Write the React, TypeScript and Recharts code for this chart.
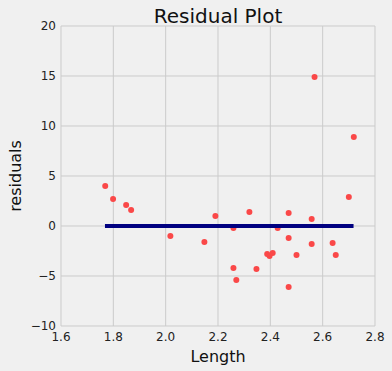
import React from 'react';
import { ScatterChart, Scatter, XAxis, YAxis, CartesianGrid } from 'recharts';

const lengths = [1.769, 1.799, 1.849, 1.868, 2.018, 2.148, 2.19, 2.259, 2.259, 2.27, 2.32, 2.347, 2.388, 2.397, 2.409, 2.428, 2.47, 2.47, 2.47, 2.5, 2.558, 2.558, 2.569, 2.638, 2.65, 2.70, 2.719];
const residuals = [4.0, 2.7, 2.1, 1.6, -1.0, -1.6, 1.0, -0.2, -4.2, -5.4, 1.4, -4.3, -2.8, -3.0, -2.7, -0.2, 1.3, -1.2, -6.1, -2.9, 0.7, -1.8, 14.9, -1.7, -2.9, 2.9, 8.9];
const fitX = [1.768, 2.718];
const fitY = [0, 0];
const xTicks = [1.6, 1.8, 2.0, 2.2, 2.4, 2.6, 2.8];
const yTicks = [-10, -5, 0, 5, 10, 15, 20];

const points = lengths.map((x, i) => ({ x, y: residuals[i] }));
const fitLine = fitX.map((x, i) => ({ x, y: fitY[i] }));

const font = '"DejaVu Sans", sans-serif';

export default function App() {
  return (
    <div style={{ position: 'absolute', left: 0, top: 0, width: 392, height: 371, background: '#f0f0f0', fontFamily: font }}>
      <ScatterChart width={392} height={371} margin={{ top: 26, right: 17, bottom: 0, left: 0 }}>
        <CartesianGrid stroke="#cbcbcb" strokeWidth={1} />
        <XAxis
          type="number"
          dataKey="x"
          domain={[1.6, 2.8]}
          ticks={xTicks}
          tickFormatter={(v: number) => v.toFixed(1)}
          height={45}
          axisLine={false}
          tickLine={false}
          tickSize={0}
          tickMargin={6}
          tick={{ fill: '#222', fontSize: 12, fontFamily: font }}
          allowDataOverflow
        />
        <YAxis
          type="number"
          dataKey="y"
          domain={[-10, 20]}
          ticks={yTicks}
          tickFormatter={(v: number) => (v < 0 ? '\u2212' + Math.abs(v) : String(v))}
          width={61}
          axisLine={false}
          tickLine={false}
          tickSize={0}
          tickMargin={5}
          tick={{ fill: '#222', fontSize: 12, fontFamily: font }}
          allowDataOverflow
        />
        <Scatter data={points} fill="#fa4848" isAnimationActive={false} shape={(p: any) => <circle cx={p.cx} cy={p.cy} r={3} fill="#fa4848" />} />
        <Scatter data={fitLine} isAnimationActive={false} line={{ stroke: '#000080', strokeWidth: 4 }} shape={() => <g />} />
        <text x={218} y={22.7} textAnchor="middle" fontSize={20} fontFamily={font} fill="#111">Residual Plot</text>
        <text x={218} y={361.7} textAnchor="middle" fontSize={16} fontFamily={font} fill="#111">Length</text>
        <text x={20.7} y={176} textAnchor="middle" fontSize={16} fontFamily={font} fill="#111" transform="rotate(-90, 20.7, 176)">residuals</text>
      </ScatterChart>
    </div>
  );
}
